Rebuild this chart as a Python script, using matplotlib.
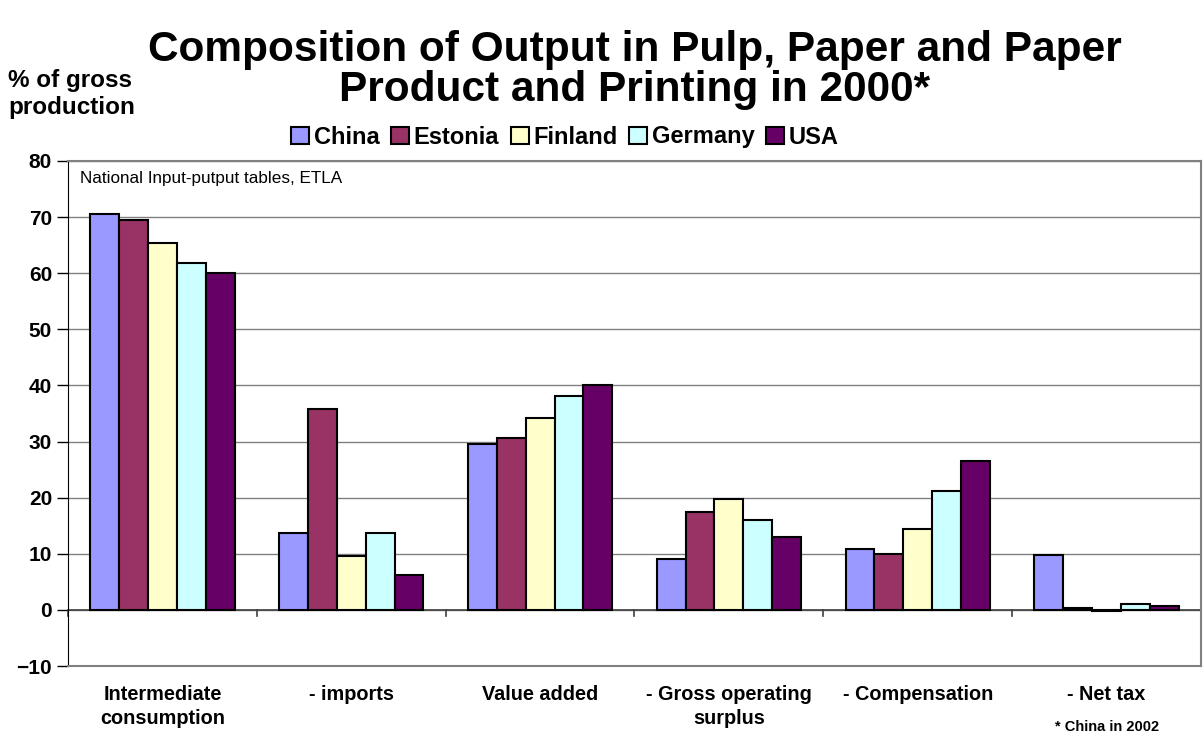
import numpy as np
import matplotlib
matplotlib.use("Agg")
from matplotlib import pyplot as plt

plt.rcParams['font.family'] = ['Liberation Sans', 'DejaVu Sans']

categories = ['Intermediate\nconsumption', '- imports', 'Value added',
              '- Gross operating\nsurplus', '- Compensation', '- Net tax']
countries = ['China', 'Estonia', 'Finland', 'Germany', 'USA']
colors = ['#9999ff', '#993366', '#ffffcc', '#ccffff', '#660066']

china = [70.6, 13.7, 29.6, 9.1, 10.9, 9.7]
estonia = [69.5, 35.8, 30.6, 17.5, 10.0, 0.3]
finland = [65.4, 9.6, 34.2, 19.8, 14.4, -0.2]
germany = [61.8, 13.7, 38.1, 16.0, 21.2, 1.0]
usa = [60.0, 6.2, 40.1, 13.0, 26.5, 0.7]
series = [china, estonia, finland, germany, usa]

fig = plt.figure(figsize=(12.04, 7.36), dpi=100)
ax = fig.add_axes([68 / 1204, 1 - 666 / 736, (1201 - 68) / 1204, (666 - 161) / 736])

x = np.arange(len(categories))
bw = 0.153
for i, (name, vals) in enumerate(zip(countries, series)):
    ax.bar(x + (i - 2) * bw, vals, width=bw, color=colors[i], edgecolor='black',
           linewidth=1.5, label=name, zorder=3)

ax.set_xlim(-0.5, 5.5)
ax.set_ylim(-10, 80)
ax.set_yticks(range(-10, 81, 10))
ax.tick_params(axis='y', labelsize=15, length=8, width=1, direction='out')
for lab in ax.get_yticklabels():
    lab.set_fontweight('bold')

ax.set_xticks([])
ax.grid(axis='y', color='#808080', linewidth=1, zorder=0)
ax.axhline(0, color='#404040', linewidth=1.2, zorder=2)
# category ticks below the zero line
for b in np.arange(-0.5, 6.0, 1.0):
    ax.plot([b, b], [0, -1.0], color='#404040', linewidth=1.2, clip_on=False, zorder=2)
for xi, cat in zip(x, categories):
    ax.text(xi, -13.4, cat, ha='center', va='top', fontsize=14.3, fontweight='bold',
            linespacing=1.3)

for side in ['top', 'right', 'bottom']:
    ax.spines[side].set_color('#808080')
    ax.spines[side].set_linewidth(1.5)
ax.spines['left'].set_color('black')

ax.text(0.011, 0.965, 'National Input-putput tables, ETLA', transform=ax.transAxes,
        ha='left', va='center', fontsize=12.3)
ax.text(5.0, -20.9, '* China in 2002', ha='center', va='center', fontsize=10.5,
        fontweight='bold')

fig.text(0.527, 1 - 70 / 736, 'Composition of Output in Pulp, Paper and Paper\nProduct and Printing in 2000*',
         ha='center', va='center', fontsize=30.5, fontweight='bold', linespacing=1.0)
fig.text(0.007, 1 - 94 / 736, '% of gross\nproduction', ha='left', va='center', fontsize=17.5,
         fontweight='bold', linespacing=1.25)

fig.legend(loc='center', bbox_to_anchor=(565 / 1204, 1 - 137 / 736), ncol=5, frameon=False,
           prop={'size': 17, 'weight': 'bold'}, handlelength=0.75, handleheight=0.75,
           handletextpad=0.2, columnspacing=0.5, borderaxespad=0)

fig.savefig('out.png', dpi=100)
